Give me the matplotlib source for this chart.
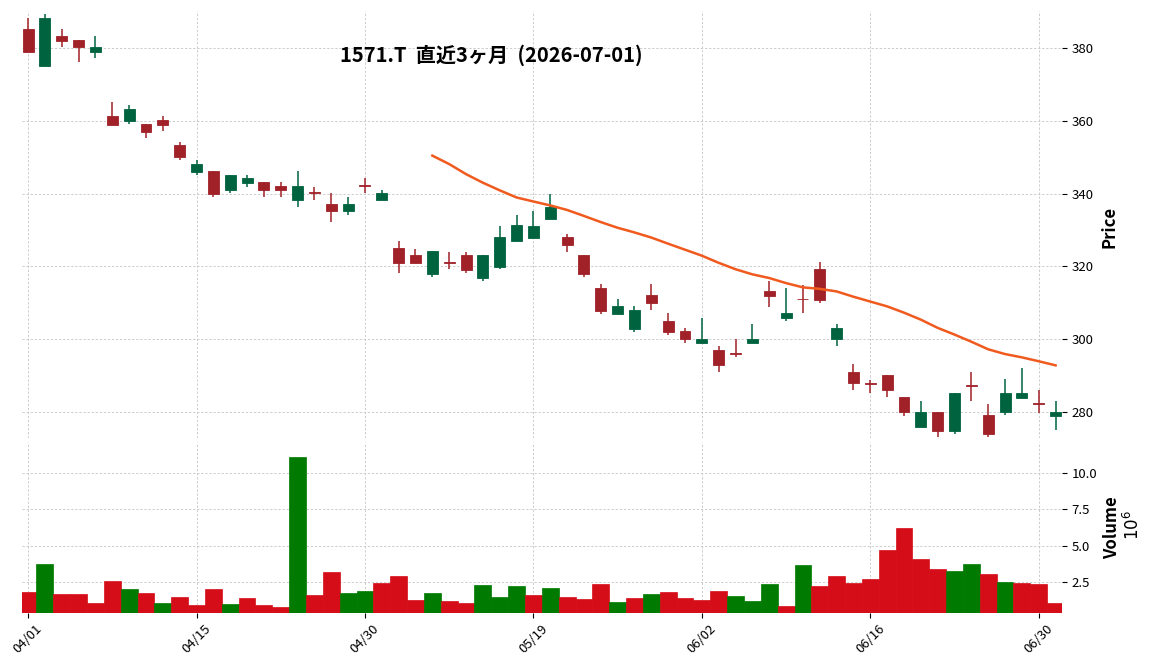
import matplotlib
matplotlib.use("Agg")
import matplotlib.pyplot as plt
import numpy as np
import pandas as pd

plt.rcParams['font.family'] = ['Noto Sans CJK JP', 'DejaVu Sans']

# ---------------- data ----------------
dates = (["04/01", "04/02", "04/03", "04/06", "04/07", "04/08", "04/09", "04/10", "04/13", "04/14",
          "04/15", "04/16", "04/17", "04/20", "04/21", "04/22", "04/23", "04/24", "04/27", "04/28",
          "04/30", "05/01", "05/07", "05/08", "05/11", "05/12", "05/13", "05/14", "05/15", "05/18",
          "05/19", "05/20", "05/21", "05/22", "05/25", "05/26", "05/27", "05/28", "05/29", "06/01",
          "06/02", "06/03", "06/04", "06/05", "06/08", "06/09", "06/10", "06/11", "06/12", "06/15",
          "06/16", "06/17", "06/18", "06/19", "06/22", "06/23", "06/24", "06/25", "06/26", "06/29",
          "06/30", "07/01"])

opens = [385.1, 375.1, 383.2, 382.1, 378.9, 361.3, 360.0, 359.1, 360.2, 353.3,
         346.0, 346.2, 341.1, 343.0, 343.2, 342.1, 338.1, 340.3, 337.2, 335.1,
         342.2, 338.1, 325.0, 323.1, 318.0, 321.2, 323.1, 316.9, 319.9, 327.0,
         327.9, 333.1, 328.0, 323.1, 314.1, 307.0, 302.9, 312.1, 305.0, 302.3,
         299.1, 297.1, 296.3, 299.1, 313.2, 305.9, 311.1, 319.3, 300.0, 291.1,
         288.1, 290.2, 284.2, 276.1, 280.1, 274.9, 287.4, 279.3, 280.0, 284.0,
         282.5, 279.1]
highs = [388.0, 389.1, 385.0, 382.2, 383.1, 365.0, 364.2, 359.1, 361.2, 354.1,
         349.2, 346.2, 345.1, 345.0, 343.2, 343.1, 346.1, 341.9, 340.1, 339.0,
         344.2, 341.1, 327.0, 324.9, 324.2, 324.1, 324.1, 323.1, 331.0, 334.2,
         335.3, 340.0, 329.0, 323.1, 315.1, 311.0, 309.1, 315.1, 307.1, 303.0,
         306.0, 298.1, 300.0, 304.1, 316.1, 314.0, 314.9, 321.1, 304.1, 293.2,
         288.9, 290.2, 284.2, 283.0, 280.1, 285.3, 291.0, 282.2, 289.1, 292.1,
         286.0, 283.0]
lows = [378.9, 375.1, 380.1, 376.0, 377.1, 358.8, 359.0, 355.2, 357.1, 349.2,
        345.0, 339.0, 340.1, 341.9, 339.0, 339.0, 336.3, 338.3, 332.2, 334.0,
        340.1, 338.1, 318.1, 320.9, 317.0, 319.2, 318.1, 316.1, 319.2, 327.0,
        327.9, 333.1, 324.0, 317.0, 307.0, 307.0, 302.1, 308.0, 301.1, 299.1,
        299.1, 291.0, 295.1, 299.1, 309.0, 305.0, 307.2, 310.0, 298.2, 286.1,
        285.2, 284.2, 279.1, 276.1, 273.2, 274.0, 283.1, 273.2, 279.2, 284.0,
        279.9, 275.1]
closes = [378.9, 388.1, 381.9, 380.3, 380.2, 358.8, 363.2, 357.0, 358.9, 350.1,
          348.1, 340.0, 345.1, 344.3, 341.1, 341.0, 342.1, 340.1, 335.1, 337.2,
          342.0, 340.2, 321.0, 320.9, 324.2, 321.0, 319.1, 323.1, 328.0, 331.3,
          331.2, 336.3, 325.9, 318.0, 307.9, 309.1, 308.0, 310.0, 302.1, 300.1,
          300.0, 293.1, 296.1, 300.1, 312.0, 307.1, 311.0, 310.9, 303.1, 288.0,
          287.9, 286.0, 280.1, 280.0, 274.9, 285.3, 287.2, 274.0, 285.4, 285.3,
          282.3, 280.1]
volumes = [1.79, 3.73, 1.65, 1.65, 1.02, 2.55, 1.99, 1.72, 1.02, 1.44,
           0.89, 1.99, 0.96, 1.37, 0.89, 0.75, 11.14, 1.58, 3.17, 1.72,
           1.86, 2.41, 2.89, 1.23, 1.72, 1.16, 1.02, 2.27, 1.44, 2.20,
           1.58, 2.06, 1.44, 1.30, 2.34, 1.09, 1.37, 1.65, 1.79, 1.37,
           1.23, 1.86, 1.51, 1.16, 2.34, 0.82, 3.66, 2.20, 2.89, 2.41,
           2.69, 4.70, 6.22, 4.07, 3.38, 3.24, 3.73, 3.03, 2.48, 2.41,
           2.34, 1.02]  # in units of 10^6

ma_window = 25
title = "1571.T  直近3ヶ月  (2026-07-01)"
price_ticks = [280, 300, 320, 340, 360, 380]
vol_ticks = [2.5, 5.0, 7.5, 10.0]

# ---------------- styling ----------------
UP, DOWN = '#006340', '#a02128'
VUP, VDOWN = '#007a00', '#d50d18'
MA_COLOR = '#f05a1e'
GRID = dict(color='#c8c8c8', linestyle=(0, (2.5, 2)), linewidth=0.65)

df = pd.DataFrame({'open': opens, 'high': highs, 'low': lows, 'close': closes, 'volume': volumes})
x = np.arange(len(df))
ma = df['close'].rolling(ma_window).mean()

W, H = 1156, 670
fig = plt.figure(figsize=(W / 100, H / 100), dpi=100)
left, right = 22 / W, 1062 / W
ax = fig.add_axes([left, 1 - 438 / H, right - left, (438 - 11) / H])
axv = fig.add_axes([left, 1 - 612.7 / H, right - left, (612.7 - 442) / H], sharex=ax)

for a in (ax, axv):
    for s in a.spines.values():
        s.set_visible(False)
    a.set_facecolor('white')
    a.grid(True, **GRID)
    a.set_axisbelow(True)
    a.yaxis.tick_right()
    a.tick_params(axis='both', labelsize=9.5, colors='black', length=3.5)

# candles
up = df['close'] > df['open']
colors = np.where(up, UP, DOWN)
body_bottom = np.minimum(df['open'], df['close'])
body_h = np.maximum(np.abs(df['close'] - df['open']), 0.12)
ax.vlines(x, df['low'], df['high'], colors=colors, linewidth=1.1, zorder=2)
ax.bar(x, body_h, bottom=body_bottom, width=0.65, color=colors, edgecolor=colors,
       linewidth=0.6, zorder=3)
ax.plot(x, ma, color=MA_COLOR, linewidth=1.8, zorder=4)

ax.set_ylim(272.96, 390.05)
ax.set_yticks(price_ticks)
ax.set_yticklabels([str(t) for t in price_ticks])
ax.tick_params(axis='x', which='both', bottom=False, labelbottom=False)

# volume colours by close vs previous close
vcol = [VUP if opens[0] < closes[0] else VDOWN] + \
       [VUP if closes[i - 1] < closes[i] else VDOWN for i in range(1, len(closes))]
axv.bar(x, df['volume'], width=1.0, color=vcol, edgecolor=vcol, linewidth=0.5, zorder=2)
axv.set_ylim(0.353, 12.17)
axv.set_yticks(vol_ticks)
axv.set_yticklabels([f"{t:.1f}" for t in vol_ticks])

tick_idx = list(range(0, len(dates), 10))
axv.set_xticks(tick_idx)
axv.set_xticklabels([dates[i] for i in tick_idx], rotation=45, ha='center')
axv.set_xlim(-0.36, 61.38)

# labels
fig.text(1110 / W, 1 - 227 / H, 'Price', rotation=90, ha='center', va='center',
         fontsize=12, fontweight='bold')
fig.text(1112 / W, 1 - 528 / H, 'Volume', rotation=90, ha='center', va='center',
         fontsize=12, fontweight='bold')
fig.text(1133 / W, 1 - 525 / H, r'$10^6$', rotation=90, ha='center', va='center',
         fontsize=12)
fig.text(491 / W, 1 - 55 / H, title, ha='center', va='center', fontsize=14.5,
         fontweight='bold')

fig.savefig('out.png', dpi=100, facecolor='white')
